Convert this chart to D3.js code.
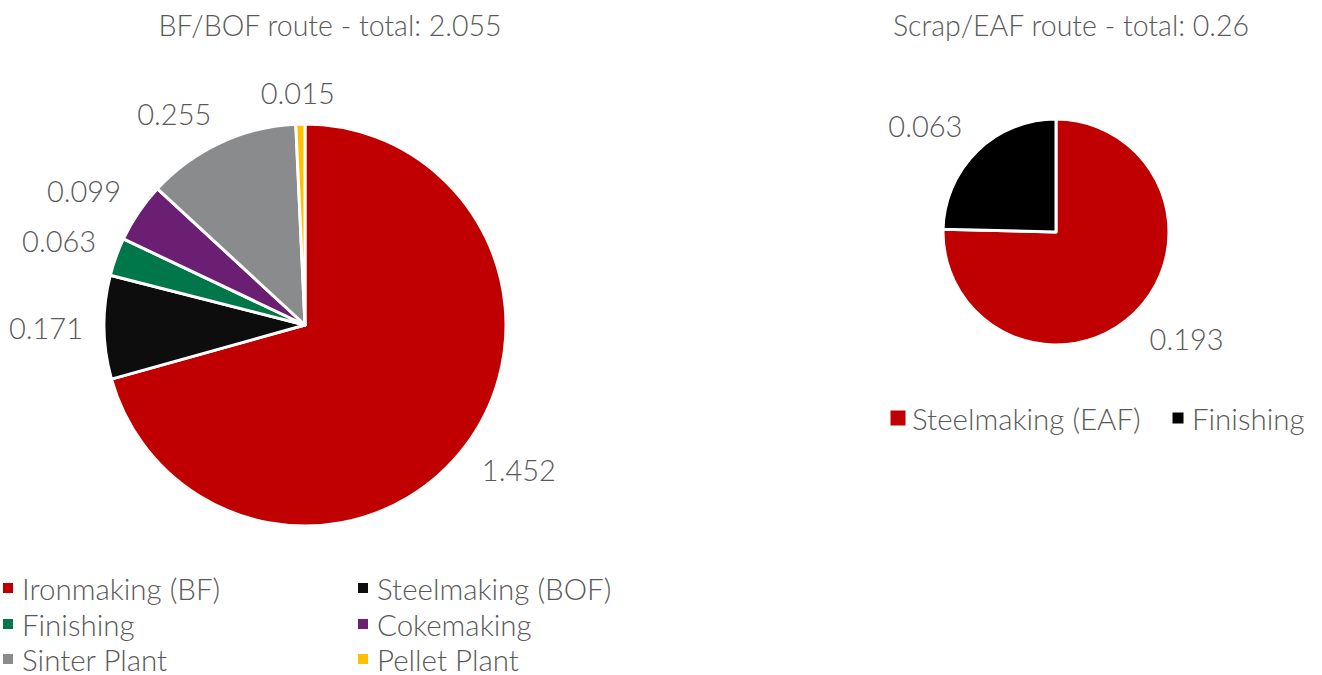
<!DOCTYPE html>
<html>
<head>
<meta charset="utf-8">
<script src="https://cdn.jsdelivr.net/npm/d3@7"></script>
<style>
  body { margin: 0; background: #fff; }
  text { font-family: Lato, "Open Sans", sans-serif; font-weight: 300; fill: #595959; }
</style>
</head>
<body>
<div class="chart"></div>
<script>
// BF/BOF route
const bfCategories = ["Ironmaking (BF)", "Steelmaking (BOF)", "Finishing", "Cokemaking", "Sinter Plant", "Pellet Plant"]
const bfValues = [1.452, 0.171, 0.063, 0.099, 0.255, 0.015]
const bfColors = ["#c00000", "#0d0d0d", "#00774a", "#6b1f73", "#8a8b8d", "#ffc000"]
const bfTitle = "BF/BOF route - total: 2.055"

// Scrap/EAF route
const eafCategories = ["Steelmaking (EAF)", "Finishing"]
const eafValues = [0.193, 0.063]
const eafColors = ["#c00000", "#000000"]
const eafTitle = "Scrap/EAF route - total: 0.26"

const width = 1322
const height = 675
const svg = d3.select(".chart").append("svg")
    .attr("width", width)
    .attr("height", height)
    .attr("viewBox", [0, 0, width, height])

const labelSize = 29

// measure text so labels sit just outside the slice edge (like Excel "outside end")
const measure = svg.append("text").style("font-size", labelSize + "px").attr("opacity", 0)
function textSize(s) {
    measure.text(s)
    const b = measure.node().getBBox()
    return [b.width, b.height]
}

function drawPie(values, colors, cx, cy, r, gap) {
    const pie = d3.pie().sort(null).value(d => d)
    const arcs = pie(values)
    const arc = d3.arc().innerRadius(0).outerRadius(r)
    const g = svg.append("g").attr("transform", `translate(${cx},${cy})`)

    g.selectAll("path")
        .data(arcs)
        .join("path")
        .attr("d", arc)
        .attr("fill", (d, i) => colors[i])
        .attr("stroke", "#fff")
        .attr("stroke-width", 3)
        .attr("stroke-linejoin", "round")

    const clamp = v => Math.max(-1, Math.min(1, v))
    g.selectAll("text.lbl")
        .data(arcs)
        .join("text")
        .attr("class", "lbl")
        .style("font-size", labelSize + "px")
        .attr("text-anchor", "middle")
        .attr("dominant-baseline", "central")
        .attr("transform", d => {
            const a = (d.startAngle + d.endAngle) / 2
            const [w, h] = textSize(String(d.data))
            const px = Math.sin(a) * (r + gap)
            const py = -Math.cos(a) * (r + gap)
            // push the box away so its nearest corner touches the anchor point
            const x = px + clamp(Math.sin(a) * 2.5) * w / 2
            const y = py - clamp(Math.cos(a) * 2.5) * h * 0.3
            return `translate(${x},${y})`
        })
        .text(d => d.data)
}

function drawLegend(cats, colors, positions, sizes) {
    const g = svg.append("g")
    const items = g.selectAll("g")
        .data(cats)
        .join("g")
        .attr("transform", (d, i) => `translate(${positions[i][0]},${positions[i][1]})`)
    items.append("rect")
        .attr("x", (d, i) => -sizes[i] / 2)
        .attr("y", (d, i) => -sizes[i] / 2)
        .attr("width", (d, i) => sizes[i])
        .attr("height", (d, i) => sizes[i])
        .attr("fill", (d, i) => colors[i])
    items.append("text")
        .attr("x", 14)
        .attr("dominant-baseline", "central")
        .style("font-size", "29.5px")
        .text(d => d)
}

// Titles
svg.append("text")
    .attr("x", 330).attr("y", 25)
    .attr("text-anchor", "middle")
    .attr("dominant-baseline", "central")
    .style("font-size", "28.5px")
    .text(bfTitle)

svg.append("text")
    .attr("x", 1071).attr("y", 25)
    .attr("text-anchor", "middle")
    .attr("dominant-baseline", "central")
    .style("font-size", "28.5px")
    .text(eafTitle)

drawPie(bfValues, bfColors, 305, 325, 201, 21)
drawPie(eafValues, eafColors, 1056, 232, 113, 21)

drawLegend(bfCategories, bfColors,
    [[8, 588], [363, 588], [8, 624], [363, 624], [8, 659], [363, 659]],
    [10, 10, 10, 10, 10, 10])
drawLegend(eafCategories, eafColors,
    [[898, 418], [1178, 418]],
    [15, 11])
</script>
</body>
</html>
